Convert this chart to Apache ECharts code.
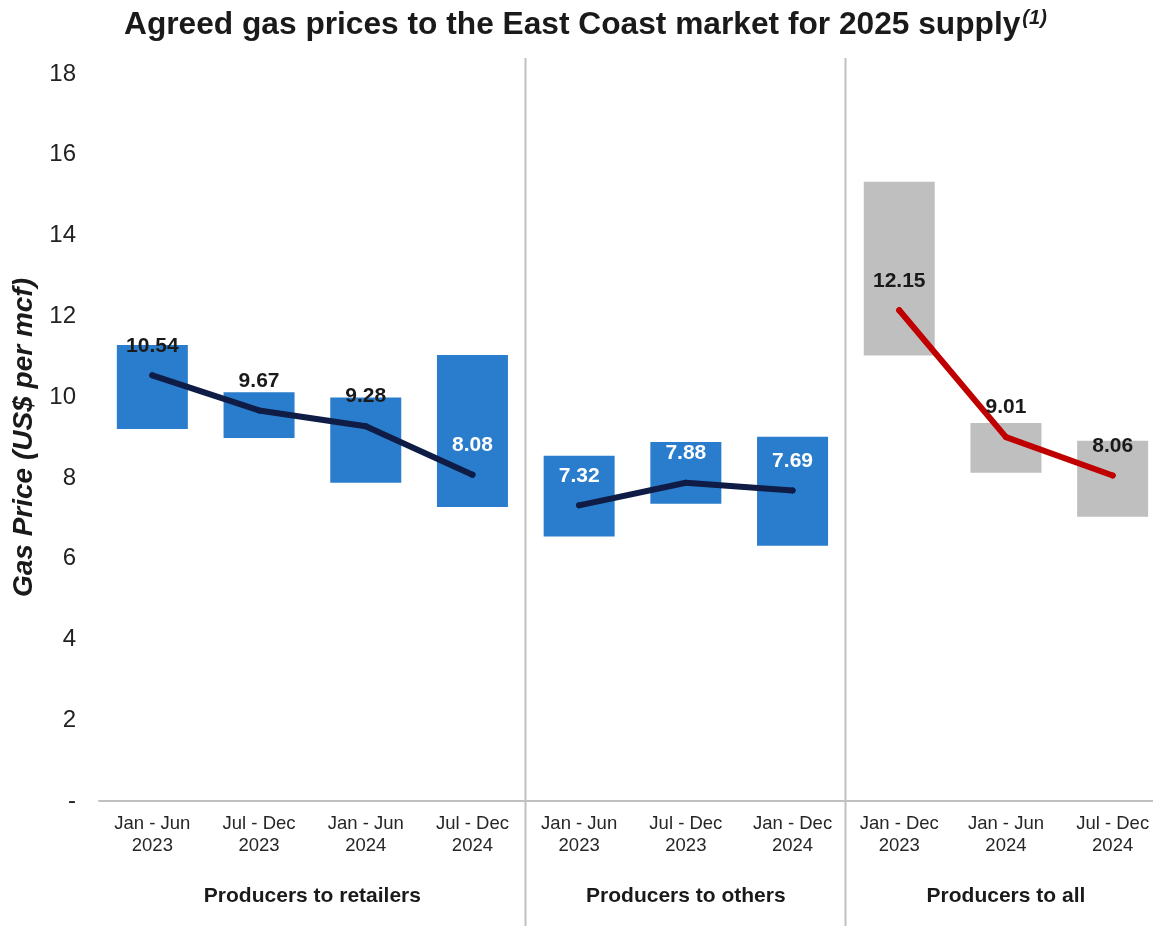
<!DOCTYPE html>
<html><head><meta charset="utf-8">
<script src="https://cdn.jsdelivr.net/npm/echarts@6/dist/echarts.min.js"></script>
<style>html,body{margin:0;padding:0;background:#ffffff;overflow:hidden}#c{width:1153px;height:926px}</style>
</head><body><div id="c"></div>
<script>
const categories = ['Jan - Jun\n2023','Jul - Dec\n2023','Jan - Jun\n2024','Jul - Dec\n2024',
                    'Jan - Jun\n2023','Jul - Dec\n2023','Jan - Dec\n2024',
                    'Jan - Dec\n2023','Jan - Jun\n2024','Jul - Dec\n2024'];
const groupNames = ['Producers to retailers','Producers to others','Producers to all'];
const groupSizes = [4, 3, 3];
const rangeLow  = [9.21, 8.99, 7.88, 7.28, 6.55, 7.36, 6.32, 11.03, 8.13, 7.04];
const rangeHigh = [11.29, 10.12, 9.99, 11.04, 8.55, 8.89, 9.02, 15.33, 9.36, 8.92];
const avgPrice  = [10.54, 9.67, 9.28, 8.08, 7.32, 7.88, 7.69, 12.15, 9.01, 8.06];
const yMin = 0, yMax = 18, yStep = 2;

const FONT = '"Liberation Sans", Arial, Helvetica, sans-serif';
const barColors = ['#2a7dcc', '#2a7dcc', '#bfbfbf'];
const lineColors = ['#0e1c46', '#0e1c46', '#c00000'];

const groupOf = [];
groupSizes.forEach((n, g) => { for (let k = 0; k < n; k++) groupOf.push(g); });

const chart = echarts.init(document.getElementById('c'), null, {renderer: 'canvas'});

const series = [
  {
    type: 'bar', stack: 'range', barWidth: 71, silent: true,
    itemStyle: {color: 'transparent'},
    data: rangeLow
  },
  {
    type: 'bar', stack: 'range', barWidth: 71, silent: true,
    data: rangeHigh.map((h, i) => ({
      value: +(h - rangeLow[i]).toFixed(2),
      itemStyle: {color: barColors[groupOf[i]]}
    }))
  }
];
groupSizes.forEach((n, g) => {
  series.push({
    type: 'line', silent: true, symbol: 'circle', symbolSize: 6,
    showSymbol: true, connectNulls: false, z: 5,
    lineStyle: {color: lineColors[g], width: 6, cap: 'round', join: 'round'},
    itemStyle: {color: lineColors[g]},
    labelLayout: {hideOverlap: false},
    data: avgPrice.map((v, i) => {
      if (groupOf[i] !== g) return '-';
      const inside = g !== 2 && (v + 0.9 < rangeHigh[i]);
      return {
        value: v,
        label: {
          show: true, position: 'top', distance: 16,
          formatter: v.toFixed(2),
          fontFamily: FONT, fontSize: 21, fontWeight: 'bold',
          color: inside ? '#ffffff' : '#1a1a1a'
        }
      };
    })
  });
});

chart.setOption({
  animation: false,
  backgroundColor: '#ffffff',
  title: {
    left: 119, top: 3,
    text: '{a|Agreed gas prices to the East Coast market for 2025 supply}{b|(1)}',
    textStyle: {
      rich: {
        a: {fontFamily: FONT, fontSize: 31.7, fontWeight: 'bold', color: '#1a1a1a'},
        b: {fontFamily: FONT, fontSize: 20, fontWeight: 'bold', fontStyle: 'italic', color: '#1a1a1a', verticalAlign: 'top', padding: [0,0,14,2]}
      }
    }
  },
  grid: {left: 99, top: 74, width: 1067, height: 727, containLabel: false, outerBoundsMode: 'none'},
  xAxis: {
    type: 'category', data: categories,
    axisLine: {lineStyle: {color: '#c0c0c0', width: 2}},
    axisTick: {show: false},
    axisLabel: {interval: 0, fontFamily: FONT, fontSize: 18.5, lineHeight: 22, color: '#262626', margin: 12}
  },
  yAxis: {
    type: 'value', min: yMin, max: yMax, interval: yStep,
    splitLine: {show: false}, axisLine: {show: false}, axisTick: {show: false},
    axisLabel: {
      fontFamily: FONT, fontSize: 24, color: '#222222', margin: 23,
      formatter: v => v === 0 ? '-' : String(v)
    },
    name: 'Gas Price (US$ per mcf)', nameLocation: 'middle', nameRotate: 90, nameGap: 59,
    nameTextStyle: {fontFamily: FONT, fontSize: 28, fontWeight: 'bold', fontStyle: 'italic', color: '#1a1a1a'}
  },
  series: series
});

// separators and group labels placed from the axis scale
const px = i => chart.convertToPixel({xAxisIndex: 0}, i);
const step = px(1) - px(0);
const graphics = [];
let start = 0;
groupSizes.forEach((n, g) => {
  const x0 = px(start) - step / 2, x1 = px(start + n - 1) + step / 2;
  graphics.push({
    type: 'text', x: (x0 + x1) / 2, y: 896, silent: true,
    style: {text: groupNames[g], fontFamily: FONT, fontSize: 21, fontWeight: 'bold', fill: '#1a1a1a', align: 'center', verticalAlign: 'middle'}
  });
  if (g < groupSizes.length - 1) {
    graphics.push({
      type: 'line', silent: true, z: 10,
      shape: {x1: Math.round(x1) - 0.5, y1: 58, x2: Math.round(x1) - 0.5, y2: 926},
      style: {stroke: '#c0c0c0', lineWidth: 2}
    });
  }
  start += n;
});
chart.setOption({graphic: graphics});
</script></body></html>
